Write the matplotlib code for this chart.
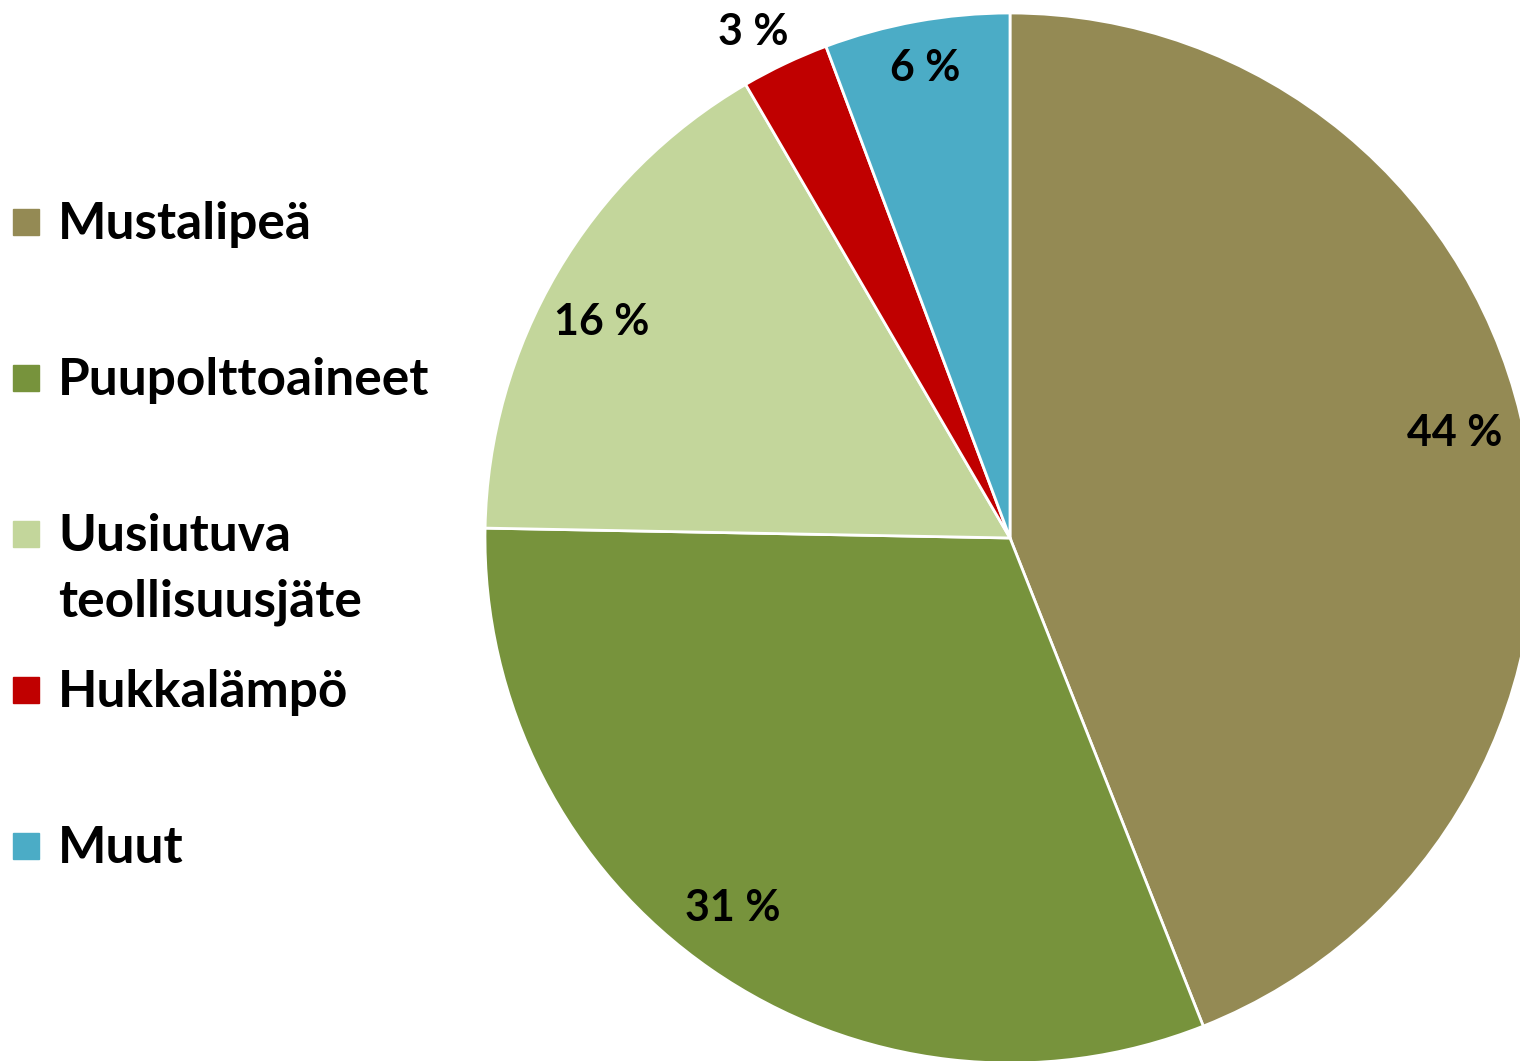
import numpy as np
import matplotlib.pyplot as plt
from matplotlib.patches import Rectangle

# Data
categories = ['Mustalipeä', 'Puupolttoaineet', 'Uusiutuva\nteollisuusjäte', 'Hukkalämpö', 'Muut']
shares = [44.0, 31.3, 16.3, 2.7, 5.7]
pct_labels = ['44 %', '31 %', '16 %', '3 %', '6 %']
colors = ['#948A54', '#77933C', '#C3D69B', '#C00000', '#4BACC6']

plt.rcParams['font.family'] = ['Lato', 'DejaVu Sans']

W, H = 1520, 1061
fig = plt.figure(figsize=(W / 100, H / 100), dpi=100)
ax = fig.add_axes([0, 0, 1, 1])

cx, cy, r = 1010, H - 538, 525
wedges, _ = ax.pie(shares, colors=colors, startangle=90, counterclock=False,
                   radius=r, center=(cx, cy), frame=True,
                   wedgeprops=dict(edgecolor='white', linewidth=2))
ax.set_xlim(0, W)
ax.set_ylim(0, H)
ax.set_aspect('equal')
ax.axis('off')

# percentage labels (small slice label sits outside)
dist = [0.87, 0.88, 0.88, 1.08, 0.91]
shift = [2.5, -2.1, 2.5, 1.5, 0.0]   # degrees
for w, lab, d, s in zip(wedges, pct_labels, dist, shift):
    ang = np.deg2rad((w.theta1 + w.theta2) / 2 + s)
    ax.text(cx + d * r * np.cos(ang), cy + d * r * np.sin(ang), lab,
            ha='center', va='center', fontsize=31, fontweight='bold', color='black')

# legend on the left
for i, (name, col) in enumerate(zip(categories, colors)):
    yc = H - (222 + i * 156)
    ax.add_patch(Rectangle((13, yc - 13), 26, 26, color=col))
    for k, line in enumerate(name.split('\n')):
        ax.text(58, yc - 17 - k * 66, line, ha='left', va='baseline', fontsize=37,
                fontweight='bold', color='black')

fig.savefig('out.png', dpi=100)
